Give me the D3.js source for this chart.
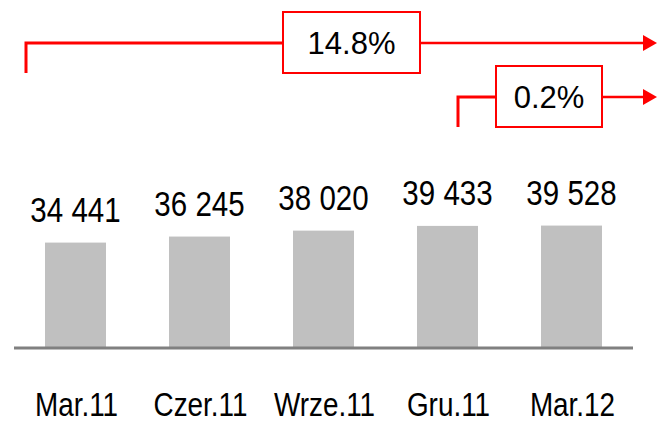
<!DOCTYPE html>
<html>
<head>
<meta charset="utf-8">
<script src="https://cdn.jsdelivr.net/npm/d3@7"></script>
<style>
  body { margin: 0; background: #fff; }
  text { font-family: "Liberation Sans", Arial, sans-serif; fill: #000; }
</style>
</head>
<body>
<div id="chart"></div>
<script>
var categories = ["Mar.11", "Czer.11", "Wrze.11", "Gru.11", "Mar.12"];
var values = [34441, 36245, 38020, 39433, 39528];
// growth annotations: from bar index -> to bar index
var changes = [{from: 0, to: 4}, {from: 3, to: 4}];

var width = 657, height = 424;
var red = "#ff0000";
var narrow = 0.82; // no Arial Narrow installed, squeeze Liberation Sans instead

var svg = d3.select("#chart").append("svg")
    .attr("width", width)
    .attr("height", height);

var x = d3.scaleBand()
    .domain(categories)
    .range([14, 633])
    .paddingInner(0.508)
    .paddingOuter(0.25);

var y = d3.scaleLinear()
    .domain([3200, 40000])
    .range([347, 224]);

var fmt = d3.formatLocale({decimal: ",", thousands: " ", grouping: [3], currency: ["", ""]}).format(",d");
var pct = d3.format(".1%");

var cx = function(c) { return x(c) + x.bandwidth() / 2; };

svg.selectAll(".bar")
  .data(values)
  .enter().append("rect")
    .attr("class", "bar")
    .attr("x", function(d, i) { return x(categories[i]); })
    .attr("y", function(d) { return y(d); })
    .attr("width", x.bandwidth())
    .attr("height", function(d) { return y.range()[0] - y(d); })
    .style("fill", "#c0c0c0");

// baseline
svg.append("line")
    .attr("x1", x.range()[0]).attr("x2", x.range()[1])
    .attr("y1", 348).attr("y2", 348)
    .style("stroke", "#808080")
    .style("stroke-width", 3);

svg.selectAll(".val")
  .data(values)
  .enter().append("text")
    .attr("class", "val")
    .attr("transform", function(d, i) {
      return "translate(" + cx(categories[i]) + "," + (y(d) - 21) + ") scale(" + narrow + ",1)";
    })
    .attr("text-anchor", "middle")
    .style("font-size", "36px")
    .text(function(d) { return fmt(d); });

svg.selectAll(".cat")
  .data(categories)
  .enter().append("text")
    .attr("class", "cat")
    .attr("transform", function(d) {
      return "translate(" + (cx(d) + 1) + ",416) scale(" + narrow + ",1)";
    })
    .attr("text-anchor", "middle")
    .style("font-size", "34px")
    .text(function(d) { return d; });

// arrows with change boxes
var arrowLayout = [
  {startX: 26, lineY: 43, bottom: 73, boxX: 283, boxW: 137, boxY: 12, boxH: 61},
  {startX: 458, lineY: 97, bottom: 127, boxX: 496, boxW: 106, boxY: 66, boxH: 61}
];
var tipX = 657, headW = 14, headH = 8;

changes.forEach(function(c, i) {
  var a = arrowLayout[i];
  var g = svg.append("g");
  g.append("path")
    .attr("d", "M" + a.startX + "," + a.bottom + "V" + a.lineY + "H" + a.boxX)
    .style("fill", "none").style("stroke", red).style("stroke-width", 3);
  g.append("line")
    .attr("x1", a.boxX + a.boxW).attr("x2", tipX - headW + 2)
    .attr("y1", a.lineY).attr("y2", a.lineY)
    .style("stroke", red).style("stroke-width", 2.5);
  g.append("path")
    .attr("d", "M" + (tipX - headW) + "," + (a.lineY - headH) + "L" + tipX + "," + a.lineY + "L" + (tipX - headW) + "," + (a.lineY + headH) + "Z")
    .style("fill", red);
  g.append("rect")
    .attr("x", a.boxX).attr("y", a.boxY)
    .attr("width", a.boxW).attr("height", a.boxH)
    .style("fill", "#fff").style("stroke", red).style("stroke-width", 2);
  g.append("text")
    .attr("x", a.boxX + a.boxW / 2)
    .attr("y", a.boxY + a.boxH / 2 + 11.5)
    .attr("text-anchor", "middle")
    .style("font-size", "31px")
    .text(pct(values[c.to] / values[c.from] - 1));
});
</script>
</body>
</html>
